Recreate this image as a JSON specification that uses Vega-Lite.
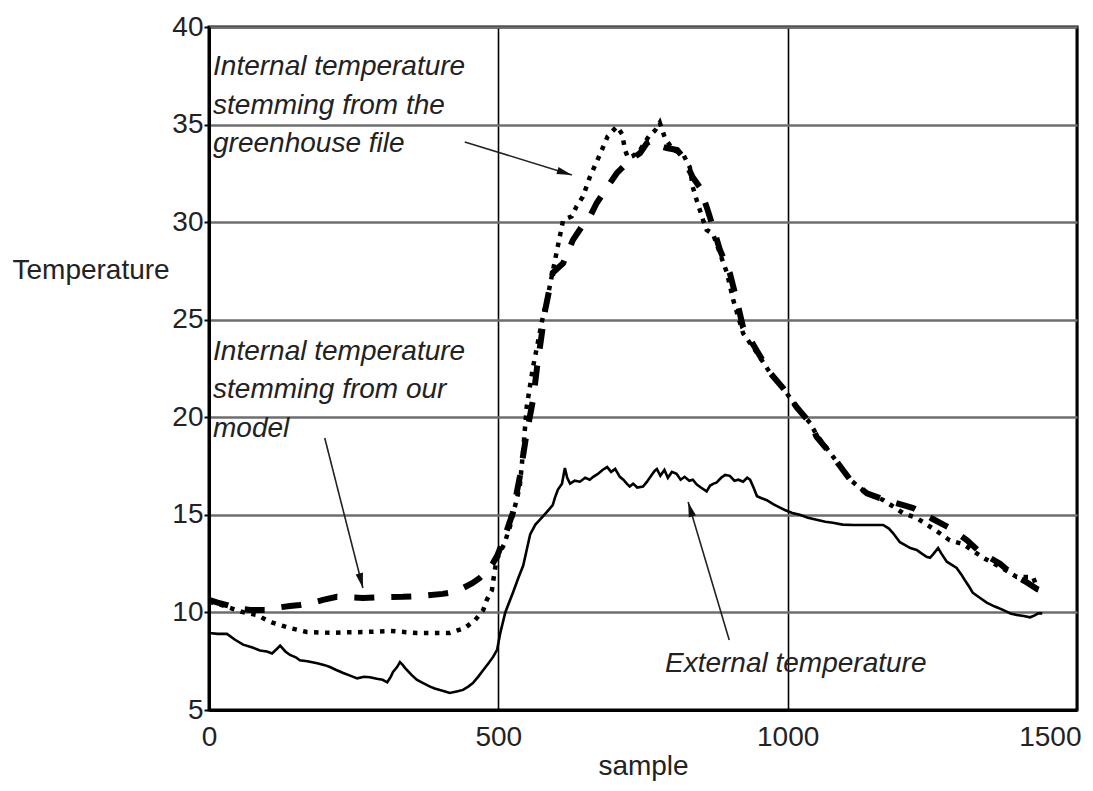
{
  "$schema": "https://vega.github.io/schema/vega-lite/v6.json",
  "width": 868,
  "height": 683,
  "autosize": "none",
  "padding": {"left": 209, "top": 27, "right": 16, "bottom": 81},
  "background": "white",
  "config": {
    "view": {"stroke": "black", "strokeWidth": 3},
    "font": "Liberation Sans"
  },
  "datasets": {
    "ext": [
      {"sample": 0, "temp": 8.95}, {"sample": 15, "temp": 8.9}, {"sample": 31, "temp": 8.9}, {"sample": 45, "temp": 8.6},
      {"sample": 59, "temp": 8.35}, {"sample": 75, "temp": 8.2}, {"sample": 88, "temp": 8.05}, {"sample": 100, "temp": 8.0},
      {"sample": 109, "temp": 7.9}, {"sample": 118, "temp": 8.15}, {"sample": 123, "temp": 8.3}, {"sample": 132, "temp": 8.0},
      {"sample": 140, "temp": 7.82}, {"sample": 150, "temp": 7.7}, {"sample": 157, "temp": 7.55}, {"sample": 170, "temp": 7.5},
      {"sample": 187, "temp": 7.4}, {"sample": 200, "temp": 7.3}, {"sample": 209, "temp": 7.2}, {"sample": 220, "temp": 7.05},
      {"sample": 232, "temp": 6.9}, {"sample": 245, "temp": 6.75}, {"sample": 256, "temp": 6.62}, {"sample": 268, "temp": 6.7},
      {"sample": 278, "temp": 6.68}, {"sample": 290, "temp": 6.6}, {"sample": 300, "temp": 6.55}, {"sample": 308, "temp": 6.42},
      {"sample": 314, "temp": 6.7}, {"sample": 318, "temp": 6.95}, {"sample": 325, "temp": 7.2}, {"sample": 330, "temp": 7.45},
      {"sample": 335, "temp": 7.3}, {"sample": 339, "temp": 7.15}, {"sample": 350, "temp": 6.8}, {"sample": 359, "temp": 6.55},
      {"sample": 370, "temp": 6.38}, {"sample": 382, "temp": 6.2}, {"sample": 390, "temp": 6.1}, {"sample": 399, "temp": 6.02},
      {"sample": 408, "temp": 5.95}, {"sample": 416, "temp": 5.87}, {"sample": 428, "temp": 5.95}, {"sample": 439, "temp": 6.03},
      {"sample": 448, "temp": 6.2}, {"sample": 456, "temp": 6.38}, {"sample": 465, "temp": 6.7}, {"sample": 474, "temp": 7.05},
      {"sample": 483, "temp": 7.4}, {"sample": 491, "temp": 7.72}, {"sample": 498, "temp": 8.1}, {"sample": 503, "temp": 8.9},
      {"sample": 512, "temp": 10.0}, {"sample": 525, "temp": 11.0}, {"sample": 535, "temp": 11.8}, {"sample": 543, "temp": 12.4},
      {"sample": 549, "temp": 13.2}, {"sample": 555, "temp": 14.0}, {"sample": 564, "temp": 14.5}, {"sample": 572, "temp": 14.75},
      {"sample": 584, "temp": 15.15}, {"sample": 594, "temp": 15.5}, {"sample": 598, "temp": 15.9}, {"sample": 603, "temp": 16.3},
      {"sample": 610, "temp": 16.6}, {"sample": 615, "temp": 17.4}, {"sample": 619, "temp": 16.9}, {"sample": 624, "temp": 16.6},
      {"sample": 632, "temp": 16.75}, {"sample": 641, "temp": 16.7}, {"sample": 650, "temp": 16.9}, {"sample": 658, "temp": 16.8},
      {"sample": 664, "temp": 16.95}, {"sample": 672, "temp": 17.1}, {"sample": 680, "temp": 17.3}, {"sample": 688, "temp": 17.45},
      {"sample": 695, "temp": 17.2}, {"sample": 702, "temp": 17.35}, {"sample": 710, "temp": 16.95}, {"sample": 716, "temp": 16.8},
      {"sample": 722, "temp": 16.6}, {"sample": 727, "temp": 16.45}, {"sample": 733, "temp": 16.6}, {"sample": 740, "temp": 16.4},
      {"sample": 750, "temp": 16.45}, {"sample": 757, "temp": 16.7}, {"sample": 764, "temp": 17.0}, {"sample": 770, "temp": 17.25},
      {"sample": 774, "temp": 17.35}, {"sample": 780, "temp": 17.0}, {"sample": 787, "temp": 17.3}, {"sample": 793, "temp": 16.9},
      {"sample": 800, "temp": 17.2}, {"sample": 808, "temp": 17.1}, {"sample": 815, "temp": 16.8}, {"sample": 822, "temp": 16.95},
      {"sample": 830, "temp": 16.75}, {"sample": 836, "temp": 16.8}, {"sample": 843, "temp": 16.55}, {"sample": 850, "temp": 16.4},
      {"sample": 860, "temp": 16.2}, {"sample": 866, "temp": 16.5}, {"sample": 872, "temp": 16.6}, {"sample": 877, "temp": 16.65},
      {"sample": 885, "temp": 16.9}, {"sample": 892, "temp": 17.05}, {"sample": 900, "temp": 17.0}, {"sample": 908, "temp": 16.75},
      {"sample": 915, "temp": 16.8}, {"sample": 923, "temp": 16.7}, {"sample": 930, "temp": 16.9}, {"sample": 935, "temp": 16.8},
      {"sample": 941, "temp": 16.4}, {"sample": 947, "temp": 15.95}, {"sample": 955, "temp": 15.85}, {"sample": 964, "temp": 15.75},
      {"sample": 975, "temp": 15.55}, {"sample": 985, "temp": 15.4}, {"sample": 995, "temp": 15.25}, {"sample": 1008, "temp": 15.1},
      {"sample": 1021, "temp": 15.0}, {"sample": 1035, "temp": 14.85}, {"sample": 1050, "temp": 14.75}, {"sample": 1065, "temp": 14.65},
      {"sample": 1078, "temp": 14.6}, {"sample": 1095, "temp": 14.5}, {"sample": 1113, "temp": 14.48}, {"sample": 1140, "temp": 14.48},
      {"sample": 1165, "temp": 14.48}, {"sample": 1175, "temp": 14.3}, {"sample": 1182, "temp": 14.07}, {"sample": 1194, "temp": 13.6},
      {"sample": 1203, "temp": 13.45}, {"sample": 1212, "temp": 13.3}, {"sample": 1223, "temp": 13.2}, {"sample": 1230, "temp": 13.05},
      {"sample": 1240, "temp": 12.85}, {"sample": 1246, "temp": 12.8}, {"sample": 1252, "temp": 13.0}, {"sample": 1260, "temp": 13.3},
      {"sample": 1266, "temp": 13.0}, {"sample": 1275, "temp": 12.6}, {"sample": 1283, "temp": 12.45}, {"sample": 1292, "temp": 12.28},
      {"sample": 1300, "temp": 11.95}, {"sample": 1306, "temp": 11.66}, {"sample": 1314, "temp": 11.3}, {"sample": 1320, "temp": 11.0},
      {"sample": 1332, "temp": 10.75}, {"sample": 1344, "temp": 10.5}, {"sample": 1358, "temp": 10.3}, {"sample": 1372, "temp": 10.13},
      {"sample": 1385, "temp": 9.95}, {"sample": 1396, "temp": 9.87}, {"sample": 1408, "temp": 9.82}, {"sample": 1419, "temp": 9.75},
      {"sample": 1427, "temp": 9.85}, {"sample": 1433, "temp": 9.95}, {"sample": 1440, "temp": 9.95}
    ],
    "greenhouse": [
      {"sample": 0, "temp": 10.55}, {"sample": 20, "temp": 10.4}, {"sample": 40, "temp": 10.2}, {"sample": 60, "temp": 10.0},
      {"sample": 83, "temp": 9.87}, {"sample": 100, "temp": 9.6}, {"sample": 111, "temp": 9.46}, {"sample": 140, "temp": 9.2},
      {"sample": 169, "temp": 9.0}, {"sample": 214, "temp": 8.95}, {"sample": 240, "temp": 8.98}, {"sample": 273, "temp": 9.0},
      {"sample": 313, "temp": 9.05}, {"sample": 359, "temp": 8.95}, {"sample": 390, "temp": 8.95}, {"sample": 416, "temp": 8.95},
      {"sample": 442, "temp": 9.2}, {"sample": 460, "temp": 9.61}, {"sample": 474, "temp": 10.13}, {"sample": 480, "temp": 10.64},
      {"sample": 489, "temp": 11.15}, {"sample": 493, "temp": 12.0}, {"sample": 497, "temp": 12.7}, {"sample": 510, "temp": 13.5},
      {"sample": 520, "temp": 14.38}, {"sample": 537, "temp": 16.43}, {"sample": 543, "temp": 18.33}, {"sample": 549, "temp": 20.53},
      {"sample": 560, "temp": 22.58}, {"sample": 577, "temp": 25.14}, {"sample": 584, "temp": 26.0}, {"sample": 598, "temp": 28.06},
      {"sample": 612, "temp": 30.11}, {"sample": 627, "temp": 30.3}, {"sample": 635, "temp": 30.8}, {"sample": 646, "temp": 31.3},
      {"sample": 658, "temp": 32.3}, {"sample": 676, "temp": 33.5}, {"sample": 689, "temp": 34.4}, {"sample": 705, "temp": 34.9},
      {"sample": 714, "temp": 34.5}, {"sample": 719, "temp": 33.7}, {"sample": 724, "temp": 33.3}, {"sample": 733, "temp": 33.4},
      {"sample": 745, "temp": 33.7}, {"sample": 760, "temp": 34.4}, {"sample": 771, "temp": 34.7}, {"sample": 779, "temp": 35.1},
      {"sample": 788, "temp": 34.3}, {"sample": 802, "temp": 33.7}, {"sample": 819, "temp": 33.5}, {"sample": 831, "temp": 32.8},
      {"sample": 836, "temp": 31.8}, {"sample": 843, "temp": 31.1}, {"sample": 854, "temp": 30.1}, {"sample": 860, "temp": 29.6},
      {"sample": 871, "temp": 29.4}, {"sample": 883, "temp": 28.4}, {"sample": 895, "temp": 27.4}, {"sample": 906, "temp": 26.0},
      {"sample": 923, "temp": 24.3}, {"sample": 947, "temp": 23.3}, {"sample": 969, "temp": 22.3}, {"sample": 992, "temp": 21.5},
      {"sample": 1016, "temp": 20.5}, {"sample": 1039, "temp": 19.7}, {"sample": 1050, "temp": 19.1}, {"sample": 1078, "temp": 18.0},
      {"sample": 1108, "temp": 16.8}, {"sample": 1137, "temp": 16.1}, {"sample": 1165, "temp": 15.76}, {"sample": 1199, "temp": 15.1},
      {"sample": 1223, "temp": 14.84}, {"sample": 1251, "temp": 14.3}, {"sample": 1280, "temp": 13.7}, {"sample": 1303, "temp": 13.5},
      {"sample": 1338, "temp": 12.8}, {"sample": 1367, "temp": 12.33}, {"sample": 1396, "temp": 11.82}, {"sample": 1424, "temp": 11.82},
      {"sample": 1431, "temp": 11.26}
    ],
    "model": [
      {"sample": 0, "temp": 10.64}, {"sample": 15, "temp": 10.5}, {"sample": 31, "temp": 10.38}, {"sample": 50, "temp": 10.2},
      {"sample": 71, "temp": 10.13}, {"sample": 100, "temp": 10.13}, {"sample": 120, "temp": 10.25}, {"sample": 140, "temp": 10.33},
      {"sample": 157, "temp": 10.38}, {"sample": 180, "temp": 10.5}, {"sample": 197, "temp": 10.64}, {"sample": 221, "temp": 10.8},
      {"sample": 266, "temp": 10.74}, {"sample": 300, "temp": 10.78}, {"sample": 335, "temp": 10.8}, {"sample": 370, "temp": 10.85},
      {"sample": 404, "temp": 10.95}, {"sample": 425, "temp": 11.05}, {"sample": 439, "temp": 11.25}, {"sample": 455, "temp": 11.5},
      {"sample": 468, "temp": 11.77}, {"sample": 480, "temp": 12.1}, {"sample": 491, "temp": 12.54}, {"sample": 498, "temp": 12.9},
      {"sample": 510, "temp": 13.8}, {"sample": 525, "temp": 15.1}, {"sample": 537, "temp": 16.94}, {"sample": 549, "temp": 19.2},
      {"sample": 560, "temp": 20.89}, {"sample": 567, "temp": 22.58}, {"sample": 581, "temp": 25.5}, {"sample": 594, "temp": 27.4},
      {"sample": 612, "temp": 27.9}, {"sample": 629, "temp": 29.09}, {"sample": 645, "temp": 29.8}, {"sample": 658, "temp": 30.26},
      {"sample": 670, "temp": 30.98}, {"sample": 693, "temp": 32.0}, {"sample": 705, "temp": 32.52}, {"sample": 728, "temp": 33.19},
      {"sample": 745, "temp": 33.54}, {"sample": 757, "temp": 34.06}, {"sample": 767, "temp": 34.2}, {"sample": 780, "temp": 33.9},
      {"sample": 791, "temp": 33.8}, {"sample": 809, "temp": 33.7}, {"sample": 819, "temp": 33.34}, {"sample": 836, "temp": 32.3},
      {"sample": 848, "temp": 31.8}, {"sample": 860, "temp": 30.78}, {"sample": 871, "temp": 29.75}, {"sample": 883, "temp": 28.57},
      {"sample": 900, "temp": 27.39}, {"sample": 912, "temp": 26.0}, {"sample": 923, "temp": 24.6}, {"sample": 947, "temp": 23.4},
      {"sample": 969, "temp": 22.3}, {"sample": 992, "temp": 21.5}, {"sample": 1016, "temp": 20.5}, {"sample": 1039, "temp": 19.7},
      {"sample": 1050, "temp": 19.0}, {"sample": 1078, "temp": 18.0}, {"sample": 1108, "temp": 16.8}, {"sample": 1137, "temp": 16.1},
      {"sample": 1165, "temp": 15.8}, {"sample": 1217, "temp": 15.35}, {"sample": 1250, "temp": 14.8}, {"sample": 1280, "temp": 14.33},
      {"sample": 1310, "temp": 13.7}, {"sample": 1332, "temp": 13.1}, {"sample": 1367, "temp": 12.5}, {"sample": 1390, "temp": 11.9},
      {"sample": 1410, "temp": 11.6}, {"sample": 1431, "temp": 11.2}, {"sample": 1450, "temp": 11.0}
    ],
    "arrows": [
      {"x": 442, "y": 34.11, "x2": 627, "y2": 32.42, "dir": 107},
      {"x": 200, "y": 18.94, "x2": 266, "y2": 11.25, "dir": 166},
      {"x": 899, "y": 8.59, "x2": 828, "y2": 15.66, "dir": 343.5}
    ],
    "notes": [
      {"x": 7, "y": 37.54, "label": "Internal temperature\nstemming from the\ngreenhouse file"},
      {"x": 7, "y": 22.94, "label": "Internal temperature\nstemming from our\nmodel"},
      {"x": 788, "y": 6.95, "label": "External temperature"}
    ]
  },
  "layer": [
    {
      "data": {"name": "ext"},
      "mark": {"type": "line", "color": "black", "strokeWidth": 2.6, "clip": true},
      "encoding": {
        "x": {
          "field": "sample", "type": "quantitative",
          "scale": {"domain": [0, 1500], "nice": false, "zero": false},
          "axis": {
            "values": [0, 500, 1000, 1500], "format": "d",
            "grid": true, "gridColor": "black", "gridWidth": 1.6, "gridOpacity": 1,
            "domain": true, "domainColor": "black", "domainWidth": 3,
            "ticks": false,
            "labelPadding": 13, "labelFontSize": 28, "labelFont": "Liberation Sans", "labelColor": "#222",
            "labelAlign": {"condition": {"test": "datum.value == 1500", "value": "right"}, "value": "center"},
            "labelOffset": {"condition": {"test": "datum.value == 1500", "value": 4}, "value": 0},
            "title": "sample", "titleFontSize": 28, "titleFont": "Liberation Sans", "titleFontWeight": "normal",
            "titleColor": "#222", "titleBaseline": "alphabetic", "titleY": 64
          }
        },
        "y": {
          "field": "temp", "type": "quantitative",
          "scale": {"domain": [5, 40], "nice": false, "zero": false},
          "axis": {
            "values": [5, 10, 15, 20, 25, 30, 35, 40],
            "grid": true, "gridColor": "#6e6e6e", "gridWidth": 2.6, "gridOpacity": 1,
            "domain": true, "domainColor": "black", "domainWidth": 3,
            "ticks": true, "tickSize": 5, "tickColor": "black", "tickWidth": 2,
            "labelPadding": 1, "labelFontSize": 28, "labelFont": "Liberation Sans", "labelColor": "#222",
            "title": "Temperature", "titleFontSize": 28, "titleFont": "Liberation Sans", "titleFontWeight": "normal",
            "titleColor": "#222", "titleAngle": 0, "titleAlign": "left", "titleBaseline": "alphabetic",
            "titleX": -197, "titleY": 251
          }
        }
      }
    },
    {
      "data": {"name": "greenhouse"},
      "mark": {"type": "line", "color": "black", "strokeWidth": 4.5, "strokeDash": [4.5, 6.5], "strokeCap": "butt"},
      "encoding": {
        "x": {"field": "sample", "type": "quantitative"},
        "y": {"field": "temp", "type": "quantitative"}
      }
    },
    {
      "data": {"name": "model"},
      "mark": {"type": "line", "color": "black", "strokeWidth": 6, "strokeDash": [20, 17], "strokeCap": "butt"},
      "encoding": {
        "x": {"field": "sample", "type": "quantitative"},
        "y": {"field": "temp", "type": "quantitative"}
      }
    },
    {
      "data": {"name": "arrows"},
      "mark": {"type": "rule", "color": "#222", "strokeWidth": 1.6},
      "encoding": {
        "x": {"field": "x", "type": "quantitative"},
        "y": {"field": "y", "type": "quantitative"},
        "x2": {"field": "x2"},
        "y2": {"field": "y2"}
      }
    },
    {
      "data": {"name": "arrows"},
      "mark": {"type": "point", "shape": "M0,0L0.5,2L-0.5,2Z", "filled": true, "color": "#111", "opacity": 1, "size": 225},
      "encoding": {
        "x": {"field": "x2", "type": "quantitative"},
        "y": {"field": "y2", "type": "quantitative"},
        "angle": {"field": "dir", "type": "quantitative", "scale": null}
      }
    },
    {
      "data": {"name": "notes"},
      "mark": {"type": "text", "align": "left", "baseline": "alphabetic", "fontSize": 28, "fontStyle": "italic",
               "font": "Liberation Sans", "color": "#222", "lineBreak": "\n", "lineHeight": 38.5},
      "encoding": {
        "x": {"field": "x", "type": "quantitative"},
        "y": {"field": "y", "type": "quantitative"},
        "text": {"field": "label"}
      }
    }
  ]
}
